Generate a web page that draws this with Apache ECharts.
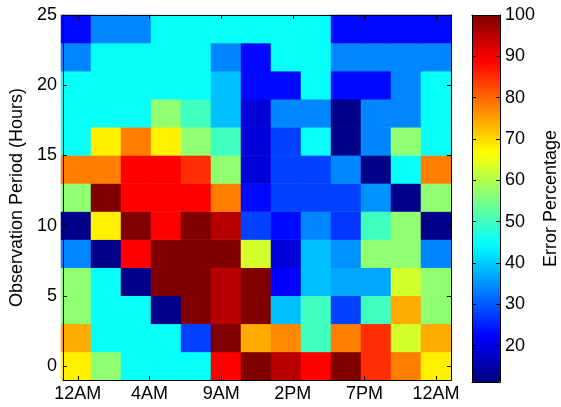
<!DOCTYPE html>
<html>
<head>
<meta charset="utf-8">
<script src="https://cdn.jsdelivr.net/npm/echarts@6/dist/echarts.min.js"></script>
<style>
html,body{margin:0;padding:0;background:#fff;}
#c{width:561px;height:407px;}
</style>
</head>
<body>
<div id="c"></div>
<script>
// Columns (time bins, 1-based) and rows (observation period, hours)
const columns = [1,2,3,4,5,6,7,8,9,10,11,12,13];
const periods = [0,2,4,6,8,10,12,14,16,18,20,22,24];

// Error percentage per row, left to right
const row24 = [23,34,34,45,45,45,45,45,45,23,23,23,23];
const row22 = [34,45,45,45,45,34,23,45,45,34,34,34,34];
const row20 = [45,45,45,45,45,39,23,23,45,23,23,34,45];
const row18 = [45,45,45,57,50,39,19,34,34,12,34,34,45];
const row16 = [45,68,78,68,57,50,19,28,45,12,34,57,45];
const row14 = [78,78,89,89,85,57,19,28,28,34,12,45,78];
const row12 = [57,100,89,89,89,78,23,28,28,28,35,12,57];
const row10 = [12,68,100,89,100,95,28,23,34,27,50,57,12];
const row8  = [34,12,89,100,100,100,63,19,39,35,57,57,34];
const row6  = [57,45,12,100,100,95,100,22,39,37,37,63,57];
const row4  = [57,45,45,12,100,95,100,39,50,28,50,74,57];
const row2  = [74,45,45,45,28,100,74,77,50,78,85,63,74];
const row0  = [68,57,45,45,45,89,100,95,89,100,85,78,68];

const xTickPos = [1, 3.4, 5.8, 8.2, 10.6, 13];
const xTickLabels = ['12AM','4AM','9AM','2PM','7PM','12AM'];
const yTicks = [0,5,10,15,20,25];
const cbTicks = [20,30,40,50,60,70,80,90,100];
const cbMin = 11.2, cbMax = 100;

const rowsBottomUp = [row0,row2,row4,row6,row8,row10,row12,row14,row16,row18,row20,row22,row24];
const data = [];
rowsBottomUp.forEach((row, yi) => row.forEach((v, xi) => data.push([xi, yi, v])));

const jet = ['#000080','#0000ff','#0080ff','#00ffff','#80ff80','#ffff00','#ff8000','#ff0000','#800000'];
const font = 'Liberation Sans';
const lineStyle = {color:'#000', width:1};

const chart = echarts.init(document.getElementById('c'), null, {renderer:'canvas'});
chart.setOption({
  animation:false,
  backgroundColor:'#fff',
  grid:[
    {left:61, top:15, width:390, height:365, containLabel:false},
    {left:61, top:15, width:390, height:365, containLabel:false},
    {left:472, top:15, width:29, height:367, containLabel:false}
  ],
  xAxis:[
    {type:'category', gridIndex:0, data:columns, show:false},
    {type:'value', gridIndex:1, min:0.5, max:13.5, position:'bottom', z:10,
      axisLine:{show:true, onZero:false, lineStyle}, splitLine:{show:false},
      axisTick:{show:true, inside:true, length:4, lineStyle, customValues:xTickPos},
      axisLabel:{show:true, customValues:xTickPos, margin:5, color:'#000', fontFamily:font, fontSize:18,
        formatter:(v)=>{let b=0;xTickPos.forEach((p,i)=>{if(Math.abs(p-v)<Math.abs(xTickPos[b]-v))b=i;});return xTickLabels[b];}}},
    {type:'value', gridIndex:1, min:0.5, max:13.5, position:'top', z:10,
      axisLine:{show:true, onZero:false, lineStyle}, splitLine:{show:false},
      axisTick:{show:true, inside:true, length:4, lineStyle, customValues:xTickPos},
      axisLabel:{show:false}},
    {type:'value', gridIndex:2, min:0, max:1, position:'bottom', z:10,
      axisLine:{show:true, onZero:false, lineStyle}, splitLine:{show:false}, axisTick:{show:false}, axisLabel:{show:false}},
    {type:'value', gridIndex:2, min:0, max:1, position:'top', z:10,
      axisLine:{show:true, onZero:false, lineStyle}, splitLine:{show:false}, axisTick:{show:false}, axisLabel:{show:false}}
  ],
  yAxis:[
    {type:'category', gridIndex:0, data:periods, show:false},
    {type:'value', gridIndex:1, min:-1, max:25, position:'left', z:10,
      name:'Observation Period (Hours)', nameLocation:'middle', nameGap:36,
      nameTextStyle:{color:'#000', fontFamily:font, fontSize:18},
      axisLine:{show:true, onZero:false, lineStyle}, splitLine:{show:false},
      axisTick:{show:true, inside:true, length:4, lineStyle, customValues:yTicks},
      axisLabel:{show:true, customValues:yTicks, margin:6, color:'#000', fontFamily:font, fontSize:18}},
    {type:'value', gridIndex:1, min:-1, max:25, position:'right', z:10,
      axisLine:{show:true, onZero:false, lineStyle}, splitLine:{show:false},
      axisTick:{show:true, inside:true, length:4, lineStyle, customValues:yTicks},
      axisLabel:{show:false}},
    {type:'value', gridIndex:2, min:cbMin, max:cbMax, position:'left', z:10,
      axisLine:{show:true, onZero:false, lineStyle}, splitLine:{show:false},
      axisTick:{show:true, inside:true, length:4, lineStyle, customValues:cbTicks},
      axisLabel:{show:false}},
    {type:'value', gridIndex:2, min:cbMin, max:cbMax, position:'right', z:10,
      name:'Error Percentage', nameLocation:'middle', nameGap:42,
      nameTextStyle:{color:'#000', fontFamily:font, fontSize:18},
      axisLine:{show:true, onZero:false, lineStyle}, splitLine:{show:false},
      axisTick:{show:true, inside:true, length:4, lineStyle, customValues:cbTicks},
      axisLabel:{show:true, customValues:cbTicks, margin:5, color:'#000', fontFamily:font, fontSize:18}}
  ],
  visualMap:{
    type:'continuous', min:cbMin, max:cbMax, calculable:false, realtime:false,
    orient:'vertical', left:472, top:15, itemWidth:29, itemHeight:367, padding:0,
    text:null, showLabel:false, inRange:{color:jet}, seriesIndex:0
  },
  series:[{
    type:'heatmap', xAxisIndex:0, yAxisIndex:0, data:data,
    itemStyle:{borderWidth:0}, emphasis:{disabled:true}, progressive:0
  }]
});
</script>
</body>
</html>
